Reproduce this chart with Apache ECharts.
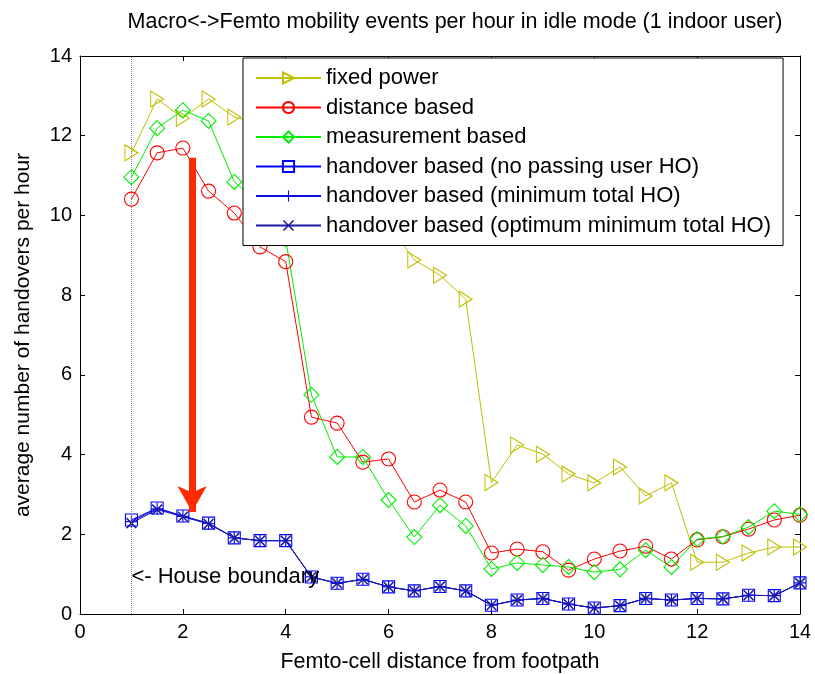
<!DOCTYPE html>
<html>
  <head>
    <meta charset="utf-8" />
    <title>Macro-Femto mobility</title>
    <script src="https://cdn.jsdelivr.net/npm/echarts@6/dist/echarts.min.js"></script>
    <style>
      html, body { margin: 0; padding: 0; background: #fff; }
    </style>
  </head>
  <body>
    <div id="main" style="width: 815px;height:674px;"></div>
    <script type="text/javascript">
      // distance of femto cell from footpath
      var distances = [1, 1.5, 2, 2.5, 3, 3.5, 4, 4.5, 5, 5.5, 6, 6.5, 7, 7.5, 8, 8.5, 9, 9.5, 10, 10.5, 11, 11.5, 12, 12.5, 13, 13.5, 14];

      var fixedPower = [11.57, 12.92, 12.44, 12.92, 12.47, 12.3, 12.0, 11.4, 10.8, 10.3, 9.8, 8.88, 8.5, 7.9, 3.3, 4.24, 4.01, 3.51, 3.29, 3.69, 2.96, 3.29, 1.3, 1.3, 1.53, 1.68, 1.68];
      var distanceBased = [10.41, 11.57, 11.69, 10.61, 10.06, 9.21, 8.84, 4.94, 4.79, 3.81, 3.89, 2.81, 3.11, 2.81, 1.53, 1.63, 1.56, 1.1, 1.38, 1.58, 1.7, 1.38, 1.86, 1.94, 2.13, 2.36, 2.48];
      var measurementBased = [10.96, 12.19, 12.64, 12.37, 10.84, 10.3, 9.4, 5.5, 3.94, 3.94, 2.86, 1.93, 2.73, 2.21, 1.13, 1.28, 1.23, 1.18, 1.05, 1.12, 1.6, 1.18, 1.88, 1.94, 2.18, 2.58, 2.5];
      var hoNoPassing = [2.36, 2.66, 2.46, 2.28, 1.91, 1.84, 1.84, 0.93, 0.77, 0.87, 0.68, 0.58, 0.69, 0.58, 0.22, 0.35, 0.39, 0.25, 0.15, 0.21, 0.39, 0.35, 0.39, 0.38, 0.47, 0.46, 0.78];
      var hoMinTotal = [2.32, 2.64, 2.45, 2.27, 1.91, 1.84, 1.84, 0.93, 0.77, 0.87, 0.68, 0.58, 0.69, 0.58, 0.22, 0.35, 0.39, 0.25, 0.15, 0.21, 0.39, 0.35, 0.39, 0.38, 0.47, 0.46, 0.78];
      var hoOptimum = [2.28, 2.62, 2.44, 2.26, 1.91, 1.84, 1.84, 0.93, 0.77, 0.87, 0.68, 0.58, 0.69, 0.58, 0.22, 0.35, 0.39, 0.25, 0.15, 0.21, 0.39, 0.35, 0.39, 0.38, 0.47, 0.46, 0.78];

      var houseBoundary = 1;
      var arrowX = 2.18, arrowFrom = 11.45, arrowTo = 2.56;

      var FONT = "Liberation Sans";

      function pairs(ys) {
        return distances.map(function (x, i) { return [x, ys[i]]; });
      }

      // MATLAB-like markers (outlined, not filled)
      var triPath = "path://M0,0L10,5L0,10Z";
      var plusPath = "path://M4.5,0H5.5V4.5H10V5.5H5.5V10H4.5V5.5H0V4.5H4.5Z";
      var crossPath = "path://M0,1L1,0L5,4L9,0L10,1L6,5L10,9L9,10L5,6L1,10L0,9L4,5Z";

      function lineSeries(name, ys, color, symbol, size, filled, extra) {
        var s = {
          name: name,
          type: "line",
          data: pairs(ys),
          symbol: symbol,
          symbolSize: size,
          showAllSymbol: true,
          animation: false,
          itemStyle: filled
            ? { color: color, borderWidth: 0 }
            : { color: "rgba(255,255,255,0)", borderColor: color, borderWidth: 1.1 },
          lineStyle: { color: color, width: 1 },
          emphasis: { disabled: true }
        };
        for (var k in extra) s[k] = extra[k];
        return s;
      }

      var myChart = echarts.init(document.getElementById("main"));

      var axisCommon = {
        type: "value",
        min: 0,
        max: 14,
        interval: 2,
        axisLine: { show: true, onZero: false, lineStyle: { color: "#000", width: 1 } },
        axisTick: { show: true, inside: true, length: 5, lineStyle: { color: "#000" } },
        splitLine: { show: false }
      };

      var option = {
        backgroundColor: "#fff",
        textStyle: { fontFamily: FONT },
        title: {
          text: "Macro<->Femto mobility events per hour in idle mode (1 indoor user)",
          left: 450,
          top: 6,
          textAlign: "center",
          textStyle: { fontFamily: FONT, fontSize: 21.5, fontWeight: "normal", color: "#000" }
        },
        grid: { left: 80, right: 15, top: 56, bottom: 60, containLabel: false, outerBoundsMode: "none" },
        legend: {
          orient: "vertical",
          left: 243,
          top: 58,
          padding: [9, 12, 9, 12],
          itemWidth: 65,
          itemHeight: 14,
          itemGap: 7.5,
          backgroundColor: "#fff",
          borderColor: "#000",
          borderWidth: 1,
          z: 10,
          textStyle: { fontFamily: FONT, fontSize: 22, color: "#000" },
          data: ["fixed power", "distance based", "measurement based",
            "handover based (no passing user HO)", "handover based (minimum total HO)",
            "handover based (optimum minimum total HO)"]
        },
        xAxis: [
          Object.assign({}, axisCommon, {
            position: "bottom",
            name: "Femto-cell distance from footpath",
            nameLocation: "middle",
            nameGap: 37,
            nameTextStyle: { fontFamily: FONT, fontSize: 21.5, color: "#000" },
            axisLabel: { fontFamily: FONT, fontSize: 20, color: "#000", margin: 8 }
          }),
          Object.assign({}, axisCommon, { position: "top", axisLabel: { show: false } })
        ],
        yAxis: [
          Object.assign({}, axisCommon, {
            position: "left",
            name: "average number of handovers per hour",
            nameLocation: "middle",
            nameGap: 46,
            nameTextStyle: { fontFamily: FONT, fontSize: 21, color: "#000" },
            axisLabel: { fontFamily: FONT, fontSize: 20, color: "#000", margin: 8 }
          }),
          Object.assign({}, axisCommon, { position: "right", axisLabel: { show: false } })
        ],
        series: [
          lineSeries("fixed power", fixedPower, "#bfbf00", triPath, [13, 16], false, {
            markLine: {
              silent: true,
              animation: false,
              symbol: ["none", "none"],
              label: { show: false },
              lineStyle: { color: "#888", type: "dotted", width: 1 },
              data: [{ xAxis: houseBoundary }]
            },
            markPoint: {
              silent: true,
              animation: false,
              symbol: "circle",
              symbolSize: 0,
              label: {
                show: true,
                position: "right",
                distance: 0,
                fontFamily: FONT,
                fontSize: 22,
                color: "#000",
                formatter: "<- House boundary"
              },
              data: [{ coord: [houseBoundary, 0.93] }]
            }
          }),
          lineSeries("distance based", distanceBased, "#ff0000", "circle", 14, false, {
            markLine: {
              silent: true,
              animation: false,
              symbol: ["none", "arrow"],
              symbolSize: [22, 26],
              label: { show: false },
              lineStyle: { color: "#ff2a00", type: "solid", width: 7, opacity: 1 },
              data: [[{ coord: [arrowX, arrowFrom] }, { coord: [arrowX, arrowTo] }]]
            }
          }),
          lineSeries("measurement based", measurementBased, "#00ee00", "diamond", 15, false, {}),
          lineSeries("handover based (no passing user HO)", hoNoPassing, "#0000ff", "rect", 12, false, {}),
          lineSeries("handover based (minimum total HO)", hoMinTotal, "#1010dd", plusPath, 12, true, {}),
          lineSeries("handover based (optimum minimum total HO)", hoOptimum, "#1a1aa0", crossPath, 11, true, {})
        ]
      };

      myChart.setOption(option);
    </script>
  </body>
</html>
